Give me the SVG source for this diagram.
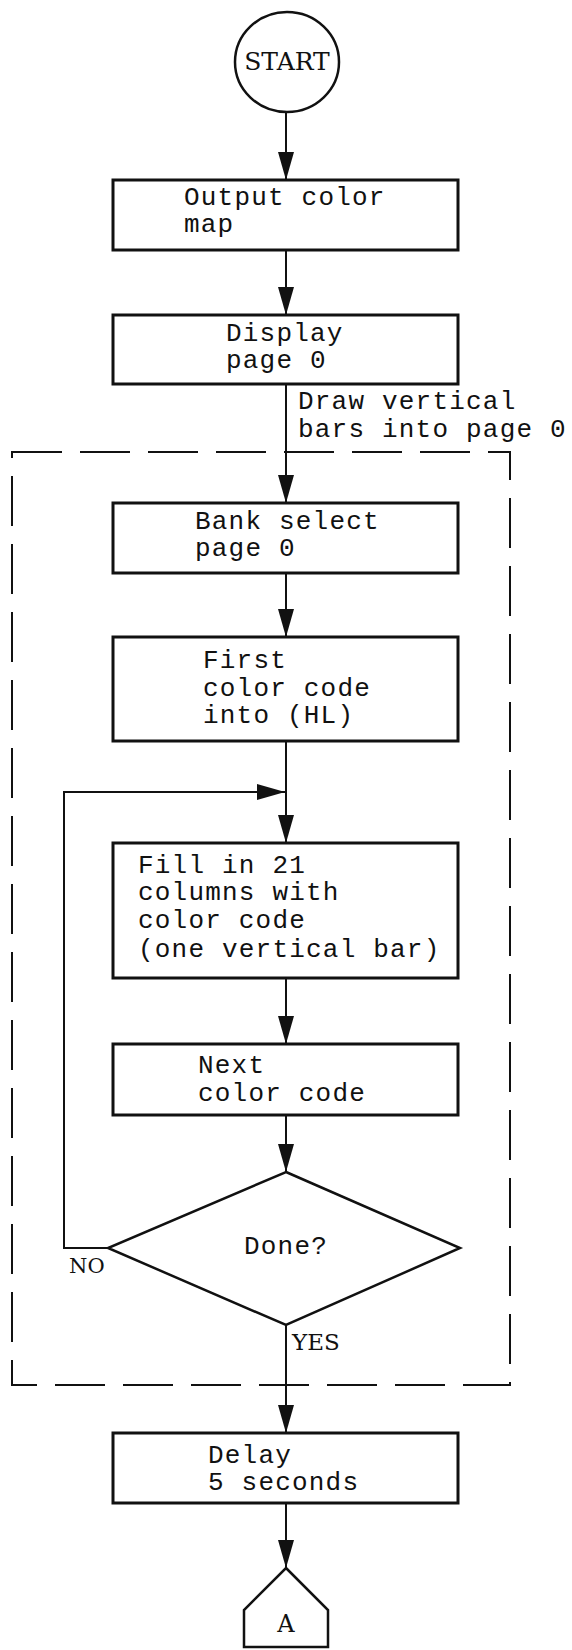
<svg xmlns="http://www.w3.org/2000/svg" width="572" height="1650" viewBox="0 0 572 1650">
<style>
.box{fill:#fff;stroke:#111;stroke-width:3}
.shape{fill:#fff;stroke:#111;stroke-width:2.5}
.mono{font-family:"Liberation Mono","Courier New",monospace;font-size:26px;letter-spacing:1.2px;fill:#111}
.serif{font-family:"DejaVu Serif","Liberation Serif",serif;fill:#111}
.conn{fill:none;stroke:#111;stroke-width:2}
.dash{fill:none;stroke:#111;stroke-width:2;stroke-dasharray:50 18}
</style>
<defs>
<marker id="ah" viewBox="0 0 28 16" refX="28" refY="8" markerWidth="28" markerHeight="16" orient="auto" markerUnits="userSpaceOnUse">
<path d="M0,0 L28,8 L0,16 z" fill="#111"/>
</marker>
</defs>
<rect id="loop-frame" class="dash" x="12" y="452" width="498" height="933"/>
<g id="connectors">
<path class="conn" d="M286,112 V180" marker-end="url(#ah)"/>
<path class="conn" d="M286,250 V315" marker-end="url(#ah)"/>
<path class="conn" d="M286,384 V503" marker-end="url(#ah)"/>
<path class="conn" d="M286,573 V637" marker-end="url(#ah)"/>
<path class="conn" d="M286,741 V843" marker-end="url(#ah)"/>
<path class="conn" d="M108,1248 H64 V792 H285" marker-end="url(#ah)"/>
<path class="conn" d="M286,978 V1044" marker-end="url(#ah)"/>
<path class="conn" d="M286,1115 V1172" marker-end="url(#ah)"/>
<path class="conn" d="M286,1325 V1433" marker-end="url(#ah)"/>
<path class="conn" d="M286,1503 V1568" marker-end="url(#ah)"/>
<text class="mono" x="298" y="409">Draw vertical</text>
<text class="mono" x="298" y="437">bars into page 0</text>
<text class="serif" x="69" y="1273" font-size="21">NO</text>
<text class="serif" x="292" y="1350" font-size="23">YES</text>
</g>
<g id="start">
<ellipse class="shape" cx="287" cy="62" rx="52" ry="50"/>
<text class="serif" x="287" y="70" font-size="25" text-anchor="middle">START</text>
</g>
<g id="output-color-map">
<rect class="box" x="113" y="180" width="345" height="70"/>
<text class="mono" x="184" y="205">Output color</text>
<text class="mono" x="184" y="232">map</text>
</g>
<g id="display-page0">
<rect class="box" x="113" y="315" width="345" height="69"/>
<text class="mono" x="226" y="341">Display</text>
<text class="mono" x="226" y="368">page 0</text>
</g>
<g id="bank-select">
<rect class="box" x="113" y="503" width="345" height="70"/>
<text class="mono" x="195" y="529">Bank select</text>
<text class="mono" x="195" y="556">page 0</text>
</g>
<g id="first-color">
<rect class="box" x="113" y="637" width="345" height="104"/>
<text class="mono" x="203" y="668">First</text>
<text class="mono" x="203" y="696">color code</text>
<text class="mono" x="203" y="723">into (HL)</text>
</g>
<g id="fill-columns">
<rect class="box" x="113" y="843" width="345" height="135"/>
<text class="mono" x="138" y="873">Fill in 21</text>
<text class="mono" x="138" y="900">columns with</text>
<text class="mono" x="138" y="928">color code</text>
<text class="mono" x="138" y="957">(one vertical bar)</text>
</g>
<g id="next-color">
<rect class="box" x="113" y="1044" width="345" height="71"/>
<text class="mono" x="198" y="1073">Next</text>
<text class="mono" x="198" y="1101">color code</text>
</g>
<g id="done">
<polygon class="shape" points="286,1172 460,1248 286,1325 108,1248"/>
<text class="mono" x="244" y="1254">Done?</text>
</g>
<g id="delay">
<rect class="box" x="113" y="1433" width="345" height="70"/>
<text class="mono" x="208" y="1463">Delay</text>
<text class="mono" x="208" y="1490">5 seconds</text>
</g>
<g id="connector-a">
<polygon class="shape" points="286,1568 328,1610 328,1647 244,1647 244,1610"/>
<text class="serif" x="286" y="1632" font-size="24" text-anchor="middle">A</text>
</g>
</svg>
